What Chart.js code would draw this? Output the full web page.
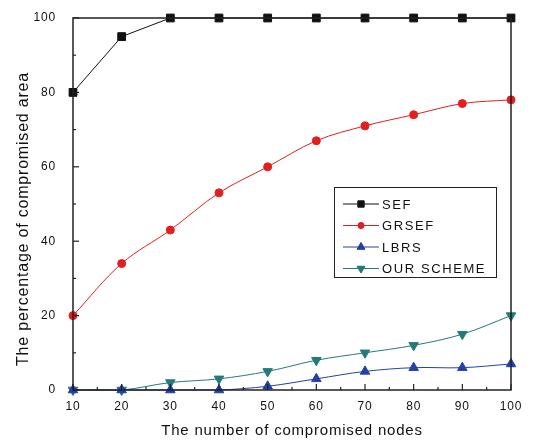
<!DOCTYPE html>
<html>
<head>
<meta charset="utf-8">
<script src="https://cdn.jsdelivr.net/npm/chart.js@4.4.1/dist/chart.umd.min.js"></script>
<style>
  html, body { margin: 0; padding: 0; background: #fff; }
  #wrap { width: 548px; height: 440px; }
</style>
</head>
<body>
<div id="wrap"><canvas id="chart" width="548" height="440"></canvas></div>
<script>
const nodes = [10, 20, 30, 40, 50, 60, 70, 80, 90, 100];
const sef = [80, 95, 100, 100, 100, 100, 100, 100, 100, 100];
const grsef = [20, 34, 43, 53, 60, 67, 71, 74, 77, 78];
const lbrs = [0, 0, 0, 0, 1, 3, 5, 6, 6, 7];
const ourScheme = [0, 0, 2, 3, 5, 8, 10, 12, 15, 20];
const yTitle = 'The percentage of compromised area';

const FONT = 'Liberation Sans, Arial, sans-serif';

function series(label, values, color, style, radius) {
    return {
        label: label,
        data: nodes.map((x, i) => ({ x: x, y: values[i] })),
        borderColor: color,
        backgroundColor: color,
        borderWidth: 1,
        pointStyle: style,
        pointRadius: radius,
        pointHoverRadius: radius,
        pointRotation: 0,
        tension: 0.35,
        clip: false
    };
}

const datasets = [
    series('SEF', sef, '#111111', 'rect', 5.5),
    series('GRSEF', grsef, '#e21f1f', 'circle', 4),
    series('LBRS', lbrs, '#2440a8', 'triangle', 5.5),
    series('OUR SCHEME', ourScheme, '#237a78', 'triangle', 5.5)
];
datasets[3].pointRotation = 180;
datasets[0].tension = 0;

// letter spacing like the scanned figure
const spacing = {
    id: 'spacing',
    beforeDraw(chart) { chart.ctx.letterSpacing = '0.8px'; }
};

// inward ticks + frame + y title + legend box
const decor = {
    id: 'decor',
    afterDatasetsDraw(chart) {
        const ctx = chart.ctx;
        const a = chart.chartArea;
        const xs = chart.scales.x, ys = chart.scales.y;
        ctx.save();
        ctx.strokeStyle = '#222';
        ctx.lineWidth = 1.5;
        ctx.strokeRect(a.left, a.top, a.right - a.left, a.bottom - a.top);
        ctx.lineWidth = 1.2;
        for (let v = 10; v <= 100; v += 5) {
            const px = xs.getPixelForValue(v);
            const len = v % 10 === 0 ? 6 : 3;
            ctx.beginPath(); ctx.moveTo(px, a.bottom); ctx.lineTo(px, a.bottom - len); ctx.stroke();
        }
        for (let v = 0; v <= 100; v += 10) {
            const py = ys.getPixelForValue(v);
            const len = v % 20 === 0 ? 6 : 3;
            ctx.beginPath(); ctx.moveTo(a.left, py); ctx.lineTo(a.left + len, py); ctx.stroke();
        }

        // y axis title, sits a bit below the plot centre in the original
        ctx.save();
        ctx.translate(24, 219);
        ctx.rotate(-Math.PI / 2);
        ctx.font = '16px ' + FONT;
        ctx.letterSpacing = '0.8px';
        ctx.fillStyle = '#111';
        ctx.textAlign = 'center';
        ctx.textBaseline = 'middle';
        ctx.fillText(yTitle, 0, 0);
        ctx.restore();

        // legend
        const bx = 334, by = 187, bw = 162, bh = 90;
        ctx.fillStyle = '#fff';
        ctx.fillRect(bx, by, bw, bh);
        ctx.strokeStyle = '#222';
        ctx.lineWidth = 1;
        ctx.strokeRect(bx + 0.5, by + 0.5, bw, bh);
        ctx.font = '13px ' + FONT;
        ctx.letterSpacing = '1.6px';
        ctx.textBaseline = 'middle';
        chart.data.datasets.forEach((ds, i) => {
            const y = by + 17 + i * 21.5;
            ctx.strokeStyle = ds.borderColor;
            ctx.lineWidth = 1;
            ctx.beginPath(); ctx.moveTo(bx + 9, y); ctx.lineTo(bx + 45, y); ctx.stroke();
            Chart.helpers.drawPoint(ctx, {
                pointStyle: ds.pointStyle,
                rotation: ds.pointRotation,
                radius: ds.pointRadius - 1,
                borderWidth: 1
            }, bx + 27, y);
            ctx.fillStyle = ds.borderColor;
            ctx.fill();
            ctx.fillStyle = '#111';
            ctx.fillText(ds.label, bx + 48, y + 1);
        });
        ctx.restore();
    }
};

new Chart(document.getElementById('chart'), {
    type: 'line',
    data: { datasets: datasets },
    options: {
        responsive: false,
        animation: false,
        layout: { padding: { top: 18, right: 37, left: 0, bottom: 0 } },
        plugins: { legend: { display: false }, tooltip: { enabled: false } },
        scales: {
            x: {
                type: 'linear',
                min: 10,
                max: 100,
                ticks: { stepSize: 10, color: '#111', font: { family: FONT, size: 12 }, padding: 1, maxRotation: 0 },
                grid: { display: false },
                border: { display: false },
                title: { display: true, text: 'The number of compromised nodes', color: '#111', font: { family: FONT, size: 15 }, padding: { top: 0, bottom: 0 } },
                afterFit(scale) { scale.height = 50; }
            },
            y: {
                min: 0,
                max: 100,
                ticks: { stepSize: 20, color: '#111', font: { family: FONT, size: 12 }, padding: 9 },
                grid: { display: false },
                border: { display: false },
                afterFit(scale) { scale.width = 73; }
            }
        }
    },
    plugins: [spacing, decor]
});
</script>
</body>
</html>
